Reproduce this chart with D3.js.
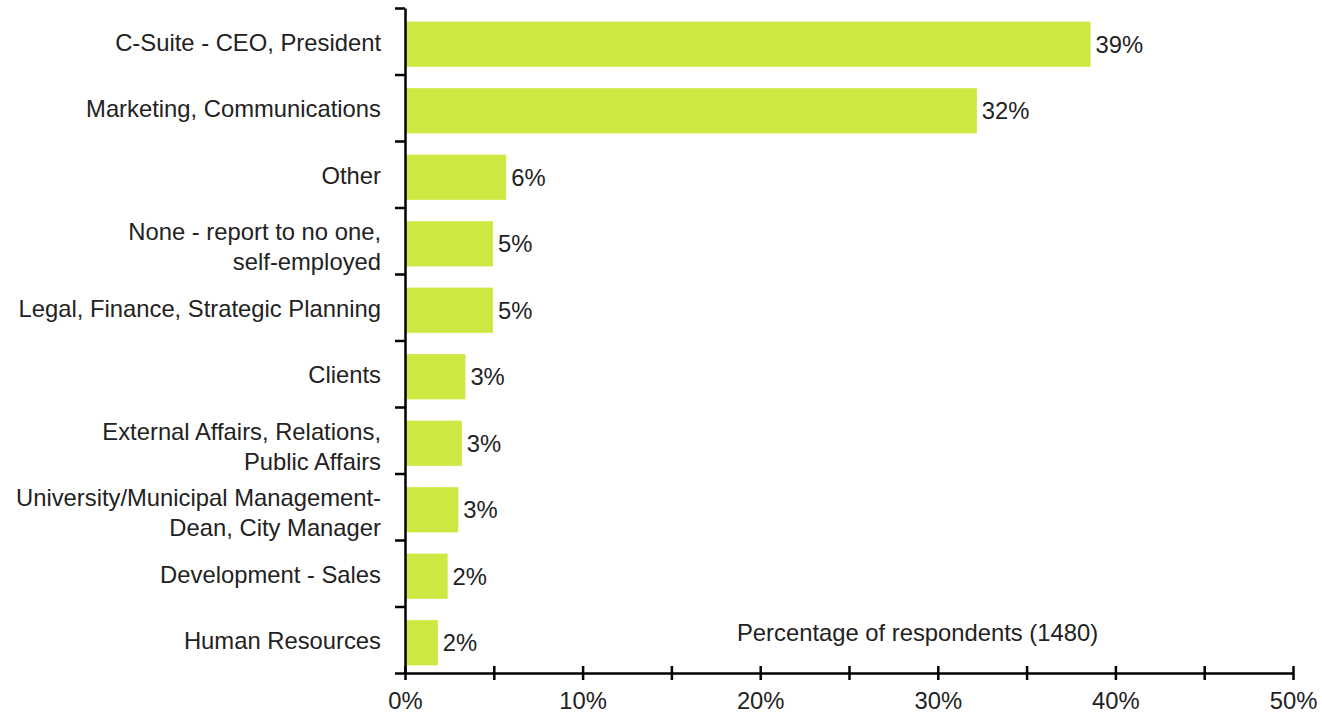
<!DOCTYPE html>
<html>
<head>
<meta charset="utf-8">
<script src="https://cdn.jsdelivr.net/npm/d3@7"></script>
<style>
  body { margin: 0; background: #fff; }
  svg text { font-family: "Liberation Sans", Arial, sans-serif; fill: #222; }
</style>
</head>
<body>
<svg id="chart" width="1322" height="714"></svg>
<script>
// data
var categories = [
  "C-Suite - CEO, President",
  "Marketing, Communications",
  "Other",
  "None - report to no one,|self-employed",
  "Legal, Finance, Strategic Planning",
  "Clients",
  "External Affairs, Relations,|Public Affairs",
  "University/Municipal Management-|Dean, City Manager",
  "Development - Sales",
  "Human Resources"
];
var values = [38.6, 32.2, 5.7, 4.95, 4.95, 3.4, 3.2, 3.0, 2.4, 1.85];
var valueLabels = ["39%", "32%", "6%", "5%", "5%", "3%", "3%", "3%", "2%", "2%"];
var xTicks = [0, 5, 10, 15, 20, 25, 30, 35, 40, 45, 50];
var axisTitle = "Percentage of respondents (1480)";

var svg = d3.select("#chart");
var mLeft = 405, mRight = 1293, mTop = 8, mBottom = 673;
var fs = "23.8px";

var x = d3.scaleLinear().domain([0, 50]).range([mLeft, mRight]);
var y = d3.scaleBand().domain(categories).range([mTop, mBottom])
  .paddingInner(0.32).paddingOuter(0.16);
// band boundaries for the y-axis ticks
var yb = d3.scaleLinear().domain([0, categories.length]).range([mTop, mBottom]);

// bars
var bars = svg.append("g").attr("transform", "translate(0,3)");
bars.selectAll("rect")
  .data(values)
  .enter()
  .append("rect")
  .attr("x", x(0))
  .attr("y", (d, i) => y(categories[i]))
  .attr("width", d => x(d) - x(0))
  .attr("height", y.bandwidth())
  .attr("fill", "#cde843");

// value labels
bars.selectAll("text.val")
  .data(values)
  .enter()
  .append("text")
  .attr("class", "val")
  .attr("x", d => x(d) + 5)
  .attr("y", (d, i) => y(categories[i]) + y.bandwidth() / 2)
  .attr("dy", "0.35em")
  .style("font-size", fs)
  .text((d, i) => valueLabels[i]);

// category labels
var labels = svg.append("g");
categories.forEach(function (c, i) {
  var lines = c.split("|");
  var cy = (yb(i) + yb(i + 1)) / 2 + (lines.length > 1 ? 6 : 1);
  var t = labels.append("text")
    .attr("text-anchor", "end")
    .style("font-size", fs);
  lines.forEach(function (l, j) {
    t.append("tspan")
      .attr("x", 381)
      .attr("y", cy + (j - (lines.length - 1) / 2) * 30)
      .attr("dy", "0.35em")
      .text(l);
  });
});

// y axis
var yAxis = svg.append("g")
  .attr("transform", "translate(" + mLeft + ",0)")
  .call(d3.axisLeft(yb).tickValues(d3.range(categories.length + 1))
    .tickFormat("").tickSize(10).tickSizeOuter(0));
yAxis.selectAll("path, line").attr("stroke", "#000").attr("stroke-width", 2.5);

// x axis
var xAxis = svg.append("g")
  .attr("transform", "translate(0," + mBottom + ")")
  .call(d3.axisBottom(x).tickValues(xTicks)
    .tickFormat(d => d % 10 === 0 ? d + "%" : "")
    .tickSize(7).tickSizeOuter(0));
xAxis.selectAll("path, line").attr("stroke", "#000").attr("stroke-width", 2.5);
xAxis.selectAll(".tick line").attr("y1", -7).attr("y2", 7);
xAxis.selectAll(".tick text")
  .attr("y", 19)
  .style("font-size", fs)
  .style("font-family", "'Liberation Sans', Arial, sans-serif")
  .attr("fill", "#222");

// axis title
svg.append("text")
  .attr("x", 737)
  .attr("y", 633)
  .attr("dy", "0.35em")
  .style("font-size", fs)
  .text(axisTitle);
</script>
</body>
</html>
